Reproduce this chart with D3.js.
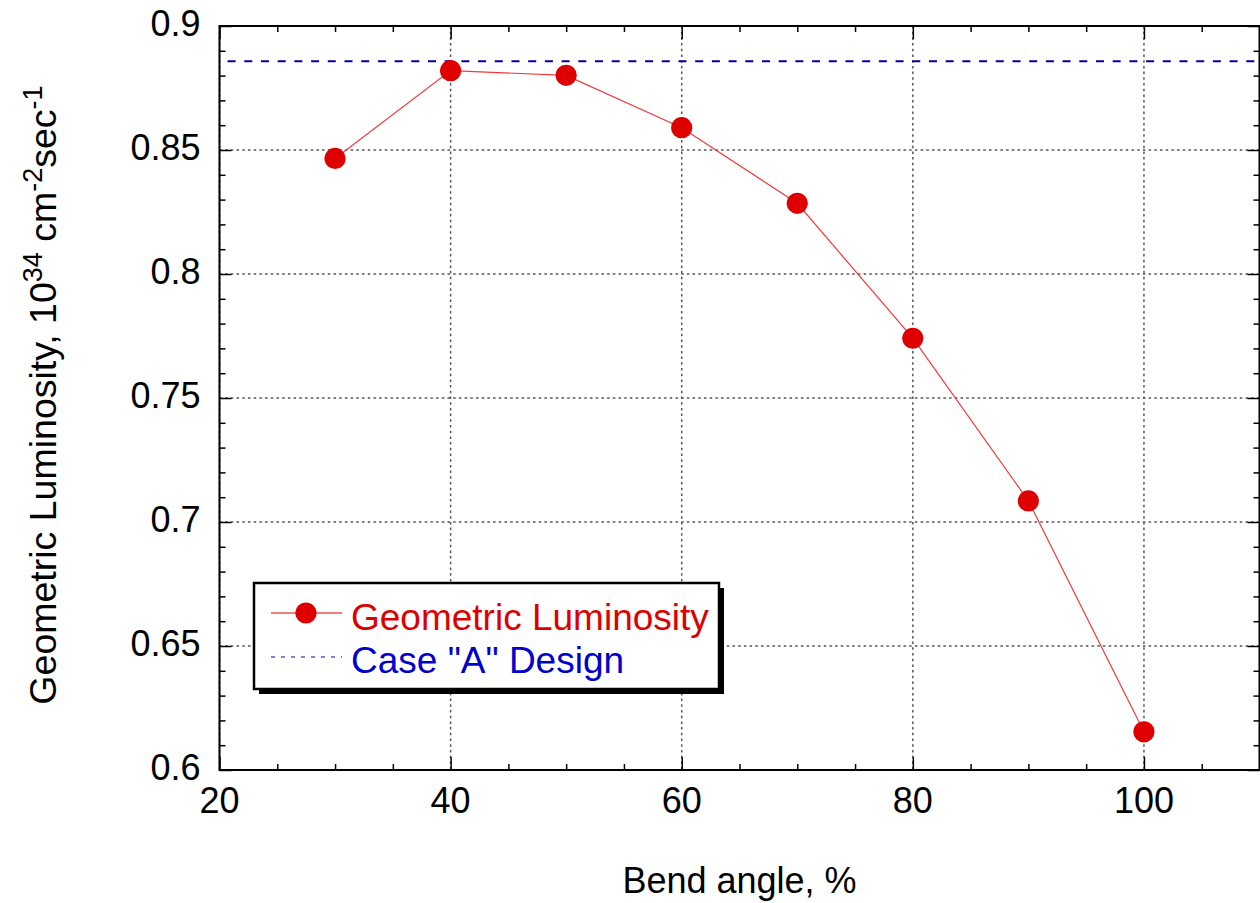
<!DOCTYPE html>
<html>
<head>
<meta charset="utf-8">
<script src="https://cdn.jsdelivr.net/npm/d3@7"></script>
<style>
  html, body { margin: 0; padding: 0; background: #fff; }
  svg { display: block; font-family: "Liberation Sans", Arial, sans-serif; }
</style>
</head>
<body>
<svg id="chart" width="1260" height="903"></svg>
<script>
// Geometric luminosity versus bend angle
const bendAngle = [30, 40, 50, 60, 70, 80, 90, 100];
const luminosity = [0.8466, 0.8820, 0.8801, 0.8590, 0.8285, 0.7741, 0.7085, 0.6154];

// Case "A" design reference level
const designLuminosity = 0.8858;
const designSpan = [20.7, 110];

const xTicks = [20, 40, 60, 80, 100];
const yTicks = [0.6, 0.65, 0.7, 0.75, 0.8, 0.85, 0.9];
const yTickLabels = ["0.6", "0.65", "0.7", "0.75", "0.8", "0.85", "0.9"];

const seriesName = "Geometric Luminosity";
const designName = "Case \"A\" Design";

const plotL = 219.5, plotR = 1259.5, plotT = 26, plotB = 770;
const fontSize = 36;

const svg = d3.select("#chart");

const x = d3.scaleLinear().domain([20, 110]).range([plotL, plotR]);
const y = d3.scaleLinear().domain([0.6, 0.9]).range([plotB, plotT]);

// dotted grid at the major ticks
const grid = svg.append("g")
  .attr("stroke", "#555")
  .attr("stroke-width", 1.5)
  .attr("stroke-dasharray", "2.5 3.2")
  .attr("fill", "none");
grid.selectAll("line.gx").data(xTicks).join("line")
  .attr("x1", d => x(d)).attr("x2", d => x(d))
  .attr("y1", plotT).attr("y2", plotB);
grid.selectAll("line.gy").data(yTicks).join("line")
  .attr("y1", d => y(d)).attr("y2", d => y(d))
  .attr("x1", plotL).attr("x2", plotR);

// axes: ticks pointing inward on all four sides
const xMinor = d3.range(20, 111, 5).filter(v => !xTicks.includes(v));
const yMinor = d3.range(0, 31).map(i => +(0.6 + i * 0.01).toFixed(2))
  .filter(v => !yTicks.some(t => Math.abs(t - v) < 1e-9));

function addAxis(axisFn, scale, values, size, transform) {
  const g = svg.append("g").attr("transform", transform)
    .call(axisFn(scale).tickValues(values).tickSize(size).tickFormat(""));
  g.select(".domain").remove();
  g.selectAll(".tick line").attr("stroke", "#000").attr("stroke-width", 1.5);
  return g;
}
// bottom
addAxis(d3.axisTop, x, xTicks, 13, `translate(0,${plotB})`);
addAxis(d3.axisTop, x, xMinor, 6, `translate(0,${plotB})`);
// top
addAxis(d3.axisBottom, x, xTicks, 13, `translate(0,${plotT})`);
addAxis(d3.axisBottom, x, xMinor, 6, `translate(0,${plotT})`);
// left
addAxis(d3.axisRight, y, yTicks, 12, `translate(${plotL},0)`);
addAxis(d3.axisRight, y, yMinor, 6, `translate(${plotL},0)`);
// right
addAxis(d3.axisLeft, y, yTicks, 12, `translate(${plotR},0)`);
addAxis(d3.axisLeft, y, yMinor, 6, `translate(${plotR},0)`);

// frame
svg.append("rect")
  .attr("x", plotL).attr("y", plotT)
  .attr("width", plotR - plotL).attr("height", plotB - plotT)
  .attr("fill", "none").attr("stroke", "#000").attr("stroke-width", 2);

// tick labels
svg.append("g").selectAll("text").data(xTicks).join("text")
  .attr("x", d => x(d)).attr("y", plotB + 43)
  .attr("text-anchor", "middle").attr("font-size", fontSize).attr("fill", "#000")
  .text(d => d);
svg.append("g").selectAll("text").data(yTicks).join("text")
  .attr("x", plotL - 19).attr("y", d => y(d) + 10)
  .attr("text-anchor", "end").attr("font-size", fontSize).attr("fill", "#000")
  .text((d, i) => yTickLabels[i]);

// axis titles
svg.append("text")
  .attr("x", (plotL + plotR) / 2).attr("y", 893)
  .attr("text-anchor", "middle").attr("font-size", fontSize)
  .text("Bend angle, %");

const yTitle = svg.append("text")
  .attr("transform", `translate(56,${(plotT + plotB) / 2 - 3}) rotate(-90)`)
  .attr("text-anchor", "middle").attr("font-size", 37.5);
yTitle.append("tspan").text("Geometric Luminosity, 10");
yTitle.append("tspan").attr("dy", -14).attr("font-size", 27).text("34");
yTitle.append("tspan").attr("dy", 14).text(" cm");
yTitle.append("tspan").attr("dy", -14).attr("font-size", 27).text("-2");
yTitle.append("tspan").attr("dy", 14).text("sec");
yTitle.append("tspan").attr("dy", -14).attr("font-size", 27).text("-1");

// design reference line
svg.append("line")
  .attr("x1", x(designSpan[0])).attr("x2", x(designSpan[1]))
  .attr("y1", y(designLuminosity)).attr("y2", y(designLuminosity))
  .attr("stroke", "#00009c").attr("stroke-width", 2)
  .attr("stroke-dasharray", "8 8.7");

// luminosity series
const pts = bendAngle.map((a, i) => [a, luminosity[i]]);
svg.append("path")
  .datum(pts)
  .attr("d", d3.line().x(d => x(d[0])).y(d => y(d[1])))
  .attr("fill", "none").attr("stroke", "#f03a3a").attr("stroke-width", 1.2);
svg.append("g").selectAll("circle").data(pts).join("circle")
  .attr("cx", d => x(d[0])).attr("cy", d => y(d[1]))
  .attr("r", 10.6).attr("fill", "#de0000");

// legend box with drop shadow
const lg = svg.append("g");
const bx = 254, by = 583, bw = 465, bh = 106;
lg.append("rect").attr("x", bx + 5).attr("y", by + 5).attr("width", bw).attr("height", bh)
  .attr("fill", "#000");
lg.append("rect").attr("x", bx).attr("y", by).attr("width", bw).attr("height", bh)
  .attr("fill", "#fff").attr("stroke", "#000").attr("stroke-width", 2.5);

lg.append("line").attr("x1", 271).attr("x2", 342).attr("y1", 613).attr("y2", 613)
  .attr("stroke", "#e00000").attr("stroke-width", 1.2);
lg.append("circle").attr("cx", 306).attr("cy", 613).attr("r", 10.6).attr("fill", "#de0000");
lg.append("text").attr("x", 351).attr("y", 630).attr("font-size", 37)
  .attr("fill", "#dd0000").text(seriesName);

lg.append("line").attr("x1", 271).attr("x2", 342).attr("y1", 657).attr("y2", 657)
  .attr("stroke", "#0000c8").attr("stroke-width", 1)
  .attr("stroke-dasharray", "4 6");
lg.append("text").attr("x", 351).attr("y", 673).attr("font-size", 37)
  .attr("fill", "#0000cc").text(designName);
</script>
</body>
</html>
